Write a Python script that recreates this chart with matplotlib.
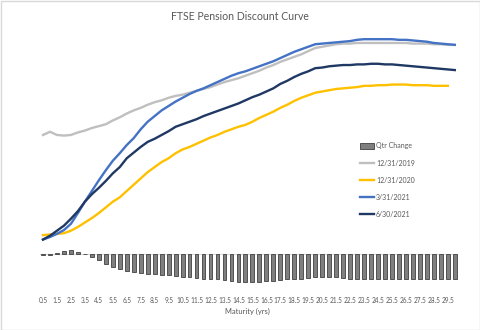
import numpy as np
import matplotlib
matplotlib.use("Agg")
import matplotlib.pyplot as plt
from matplotlib.patches import Rectangle

plt.rcParams['font.family'] = ['Lato', 'DejaVu Sans']

maturities = [f"{m:g}" for m in np.arange(0.5, 30.01, 0.5)]

dec2019 = [1.89, 1.94, 1.89, 1.88, 1.89, 1.93, 1.96, 2.00, 2.03, 2.06,
           2.12, 2.17, 2.23, 2.28, 2.32, 2.37, 2.41, 2.44, 2.48, 2.51,
           2.53, 2.56, 2.59, 2.62, 2.65, 2.69, 2.73, 2.76, 2.79, 2.83,
           2.87, 2.91, 2.96, 3.00, 3.05, 3.09, 3.13, 3.17, 3.22, 3.27,
           3.29, 3.31, 3.33, 3.34, 3.34, 3.35, 3.35, 3.35, 3.35, 3.35,
           3.35, 3.35, 3.35, 3.34, 3.34, 3.34, 3.33, 3.33, 3.32, 3.32]

dec2020 = [0.30, 0.31, 0.32, 0.33, 0.37, 0.43, 0.50, 0.57, 0.65, 0.74,
           0.83, 0.90, 1.00, 1.10, 1.20, 1.30, 1.38, 1.46, 1.52, 1.60,
           1.66, 1.70, 1.75, 1.80, 1.85, 1.89, 1.94, 1.98, 2.02, 2.05,
           2.10, 2.16, 2.21, 2.26, 2.32, 2.37, 2.43, 2.48, 2.52, 2.56,
           2.58, 2.60, 2.62, 2.63, 2.64, 2.65, 2.67, 2.67, 2.68, 2.68,
           2.69, 2.69, 2.69, 2.68, 2.68, 2.68, 2.67, 2.67, 2.67, np.nan]

mar2021 = [0.23, 0.27, 0.32, 0.38, 0.48, 0.65, 0.83, 1.00, 1.17, 1.33,
           1.48, 1.60, 1.73, 1.84, 1.98, 2.10, 2.19, 2.28, 2.35, 2.42,
           2.48, 2.54, 2.59, 2.63, 2.68, 2.73, 2.78, 2.83, 2.87, 2.90,
           2.94, 2.98, 3.02, 3.06, 3.11, 3.16, 3.21, 3.25, 3.29, 3.33,
           3.34, 3.35, 3.36, 3.37, 3.38, 3.40, 3.41, 3.41, 3.41, 3.41,
           3.41, 3.40, 3.40, 3.39, 3.38, 3.37, 3.35, 3.34, 3.33, 3.32]

jun2021 = [0.23, 0.29, 0.37, 0.45, 0.56, 0.68, 0.83, 0.95, 1.05, 1.16,
           1.28, 1.38, 1.52, 1.61, 1.70, 1.78, 1.83, 1.89, 1.95, 2.02,
           2.06, 2.10, 2.14, 2.19, 2.23, 2.27, 2.31, 2.35, 2.39, 2.44,
           2.49, 2.53, 2.58, 2.63, 2.70, 2.75, 2.81, 2.86, 2.90, 2.95,
           2.96, 2.98, 2.99, 3.00, 3.00, 3.01, 3.01, 3.02, 3.02, 3.01,
           3.01, 3.00, 2.99, 2.98, 2.97, 2.96, 2.95, 2.94, 2.93, 2.92]

qtr_change = [-0.01, -0.01, 0.02, 0.05, 0.06, 0.03, -0.005, -0.05, -0.10, -0.16,
              -0.21, -0.24, -0.27, -0.29, -0.30, -0.32, -0.32, -0.33, -0.33, -0.35,
              -0.37, -0.37, -0.38, -0.40, -0.40, -0.40, -0.41, -0.43, -0.44, -0.44,
              -0.44, -0.44, -0.43, -0.43, -0.41, -0.40, -0.40, -0.40, -0.38, -0.37,
              -0.37, -0.37, -0.37, -0.38, -0.40, -0.40, -0.40, -0.40, -0.40, -0.40,
              -0.40, -0.40, -0.40, -0.40, -0.40, -0.40, -0.40, -0.39, -0.39, -0.39]

W, H = 480, 330
fig = plt.figure(figsize=(W / 100, H / 100), dpi=100)
fig.patches.append(Rectangle((0.5 / W, 0.5 / H), 1 - 1.0 / W, 1 - 1.0 / H,
                             transform=fig.transFigure, fill=False,
                             edgecolor='#d9d9d9', lw=1.0))

ax = fig.add_axes([39.5 / W, (H - 290) / H, 418.8 / W, 260 / H])
x = np.arange(len(maturities))

bars = ax.bar(x, qtr_change, width=0.55, color='#7f7f7f', edgecolor='#404040',
              linewidth=0.6, label='Qtr Change', zorder=2)
ax.axhline(0, color='#d9d9d9', lw=0.8, zorder=1)

lw = 1.7
l1, = ax.plot(x, dec2019, color='#bfbfbf', lw=lw, label='12/31/2019', zorder=3)
l2, = ax.plot(x, dec2020, color='#ffc000', lw=lw, label='12/31/2020', zorder=3)
l3, = ax.plot(x, mar2021, color='#4472c4', lw=lw, label='3/31/2021', zorder=3)
l4, = ax.plot(x, jun2021, color='#1f3864', lw=lw, label='6/30/2021', zorder=3)

ax.set_xlim(-0.5, len(maturities) - 0.5)
ax.set_ylim(-0.571, 3.556)
for s in ax.spines.values():
    s.set_visible(False)
ax.set_yticks([])
ax.set_xticks(x[::2])
ax.set_xticklabels(maturities[::2], fontsize=4.7, color='#595959')
ax.tick_params(axis='x', length=0, pad=5)

fig.text(247 / W, 1 - 311 / H, 'Maturity (yrs)', ha='center', va='center',
         fontsize=5.4, color='#595959')
fig.text(240 / W, 1 - 17 / H, 'FTSE Pension Discount Curve', ha='center', va='center',
         fontsize=7.6, color='#595959')

leg = fig.legend([bars, l1, l2, l3, l4],
                 ['Qtr Change', '12/31/2019', '12/31/2020', '3/31/2021', '6/30/2021'],
                 loc='upper left', bbox_to_anchor=(357 / W, 1 - 139 / H),
                 frameon=False, fontsize=5.0, handlelength=2.0, handleheight=0.8,
                 handletextpad=0.25, labelspacing=1.45, borderpad=0)
for t in leg.get_texts():
    t.set_color('#595959')

fig.savefig('out.png', dpi=100)
